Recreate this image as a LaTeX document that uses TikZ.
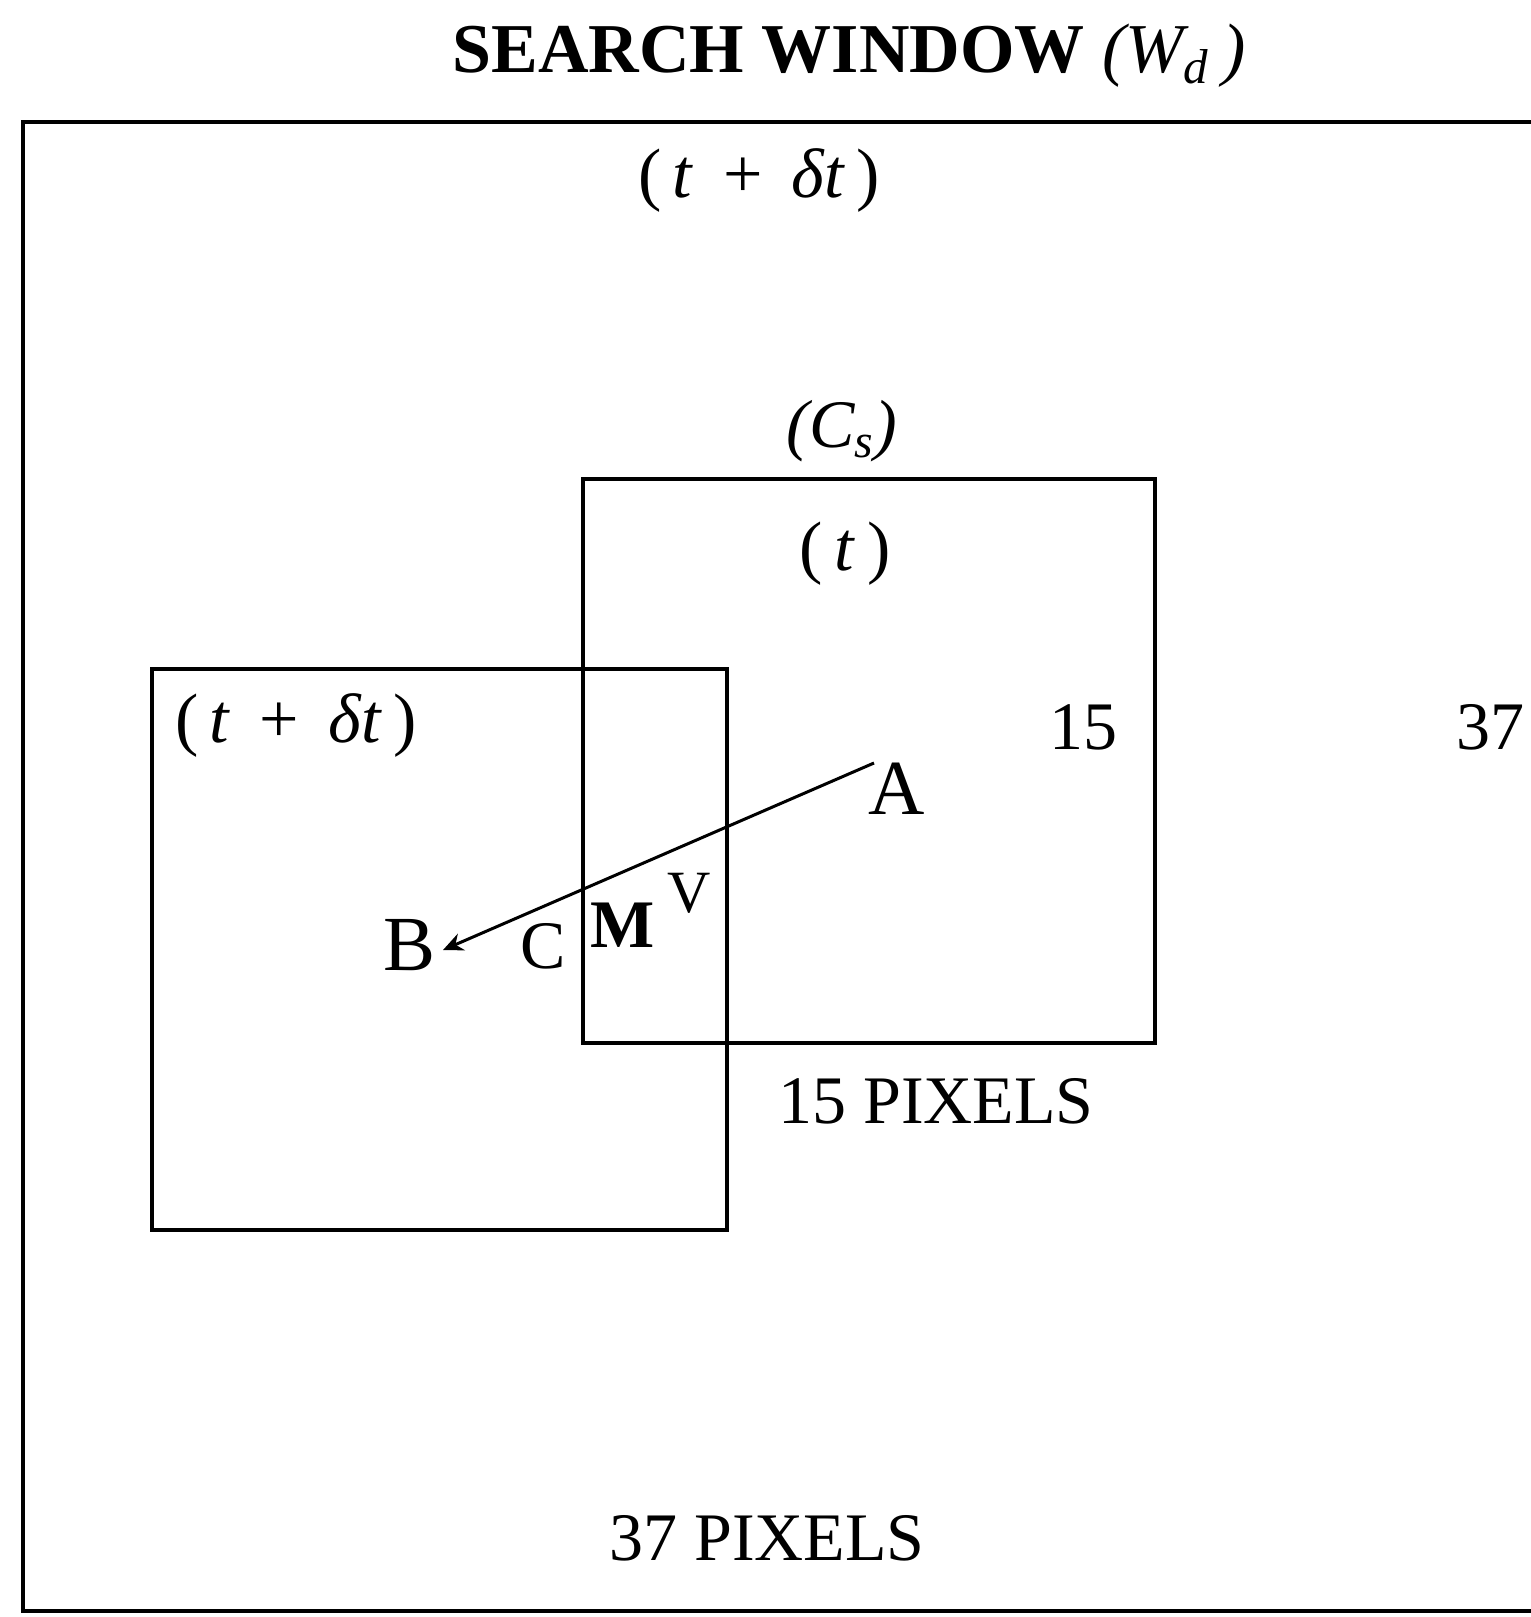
\documentclass[tikz,border=0pt]{standalone}
\usepackage{fontspec}
\setmainfont{Liberation Serif}
\usetikzlibrary{arrows.meta}
\tikzset{
  frame/.style={line width=0.9pt, line join=miter},
  lbl/.style={inner sep=0pt, font=\fontsize{17pt}{20pt}\selectfont},
  timelbl/.style={inner sep=0pt, font=\fontsize{17.5pt}{20pt}\selectfont},
  biglbl/.style={inner sep=0pt, font=\fontsize{19.5pt}{22pt}\selectfont},
  smalllbl/.style={inner sep=0pt, font=\fontsize{15pt}{18pt}\selectfont},
  titlelbl/.style={inner sep=0pt, font=\fontsize{17.5pt}{20pt}\selectfont\bfseries},
  vec/.style={line width=0.75pt, -{Stealth[length=5pt,width=4.5pt]}}
}
\begin{document}
\begin{tikzpicture}[x=0.25pt,y=-0.25pt]
\useasboundingbox (0,0) rectangle (1531,1617);
% title
\node[titlelbl] (title) at (849,56) {SEARCH WINDOW \textmd{\textit{(W\textsubscript{d}\,)}}};
% outer search window (right side cut off)
\draw[line width=1pt] (1531,122) -- (23,122) -- (23,1611) -- (1531,1611);
% boxes
\draw[frame] (583,479) rectangle (1155,1043);
\draw[frame] (152,669) rectangle (727,1230);
% labels
\node[timelbl] (ttop) at (759,180) {(\,\textit{t}\, + \,\textit{δt}\,)};
\node[lbl] (cs) at (842,431) {\textit{(C\textsubscript{s})}};
\node[timelbl] (tt) at (845,554) {(\,\textit{t}\,)};
\node[lbl] (n15) at (1083,727) {15};
\node[lbl] (n37) at (1490,727) {37};
\node[timelbl] (tdt) at (296,725) {(\,\textit{t}\, + \,\textit{δt}\,)};
\node[biglbl] (A) at (897,789) {A};
\node[biglbl] (B) at (410,945) {B};
\node[lbl] (C) at (543,946) {C};
\node[lbl,font=\fontsize{17pt}{20pt}\selectfont\bfseries] (M) at (623,925) {M};
\node[smalllbl] (V) at (689,893) {V};
\node[lbl] (p15) at (936,1101) {15 PIXELS};
\node[lbl] (p37) at (767,1538) {37 PIXELS};
% displacement vector
\coordinate (vA) at (874,763);
\coordinate (vB) at (443,950);
\draw[vec] (vA) -- (vB);
\end{tikzpicture}
\end{document}
